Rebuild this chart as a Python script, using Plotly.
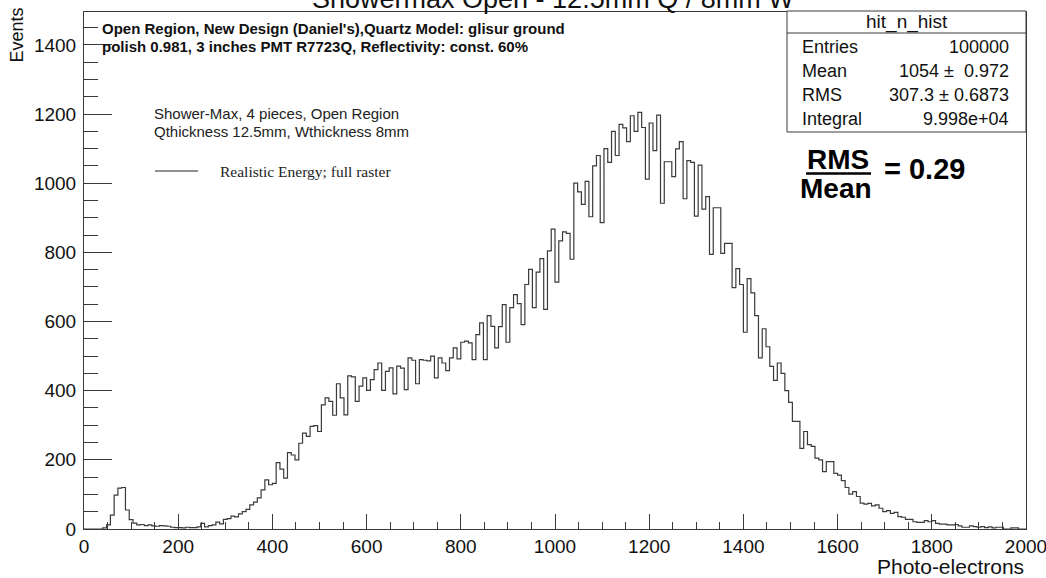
import numpy as np
import plotly.graph_objects as go

# ---- histogram: hit_n_hist, 250 bins on [0, 2000] ----
x_low, x_high, n_bins = 0, 2000, 250
counts = [
    0, 0, 0, 0, 0, 3, 12, 40, 98, 118,
    120, 55, 27, 17, 12, 13, 10, 12, 9, 8,
    10, 9, 8, 5, 4, 4, 3, 5, 4, 4,
    6, 16, 6, 10, 12, 20, 15, 28, 30, 37,
    35, 44, 50, 57, 70, 78, 90, 113, 142, 128,
    132, 192, 173, 147, 221, 214, 200, 248, 277, 268,
    297, 299, 282, 359, 379, 369, 329, 420, 379, 330,
    443, 440, 369, 413, 437, 401, 432, 461, 480, 401,
    456, 466, 391, 471, 465, 403, 495, 488, 420, 490,
    488, 486, 500, 437, 495, 480, 458, 495, 524, 492,
    540, 543, 538, 490, 562, 596, 490, 617, 586, 524,
    585, 649, 540, 640, 678, 652, 591, 707, 751, 640,
    743, 782, 635, 804, 867, 714, 833, 859, 855, 780,
    1000, 975, 939, 1005, 903, 1050, 1080, 886, 1100, 1060,
    1150, 1080, 1170, 1160, 1120, 1195, 1150, 1205, 1161, 1012,
    1174, 1094, 1197, 942, 1062, 1062, 1019, 1099, 1120, 955,
    1065, 1060, 905, 1052, 925, 961, 794, 929, 929, 797,
    826, 826, 698, 753, 707, 569, 724, 683, 617, 495,
    579, 527, 470, 430, 480, 450, 400, 366, 311, 311,
    233, 282, 244, 239, 205, 200, 166, 195, 195, 161,
    156, 140, 120, 101, 108, 94, 75, 72, 74, 67,
    70, 60, 50, 53, 45, 48, 36, 34, 28, 28,
    21, 19, 19, 24, 21, 24, 16, 14, 14, 12,
    12, 13, 9, 5, 5, 9, 7, 5, 7, 4,
    6, 3, 5, 5, 0, 0, 3, 3, 0, 0,
]

x_ticks = list(range(0, 2001, 200))
y_ticks = list(range(0, 1401, 200))

hist_title = "Showermax Open - 12.5mm Q / 8mm W"
x_title = "Photo-electrons"
y_title = "Events"
info_lines = [
    "Open Region, New Design (Daniel's),Quartz Model: glisur ground",
    "polish 0.981, 3 inches PMT R7723Q, Reflectivity: const. 60%",
]
setup_lines = ["Shower-Max, 4 pieces, Open Region", "Qthickness 12.5mm, Wthickness 8mm"]
legend_label = "Realistic Energy; full raster"
stats_name = "hit_n_hist"
stats_rows = [
    ("Entries", "100000"),
    ("Mean", "1054 \u00b1\u00a0 0.972"),
    ("RMS", "307.3 \u00b1 0.6873"),
    ("Integral", "9.998e+04"),
]
ratio_text = "= 0.29"

# ---- geometry of the frame (pixels) ----
W, H = 1046, 578
L, R, T, B = 84, 1026, 12, 529
y_top = 1495

def px(xp):
    return (xp - L) / (R - L)

def py(yp):
    return (B - yp) / (B - T)

edges = np.linspace(x_low, x_high, n_bins + 1)
step_y = np.append(np.array(counts, dtype=float), counts[-1])

LINE = "#3a3a3a"
SANS = "Liberation Sans, Arial, Helvetica, sans-serif"
SERIF = "Liberation Serif, Times New Roman, serif"

fig = go.Figure()
fig.add_trace(go.Scatter(
    x=edges, y=step_y, mode="lines",
    line=dict(shape="hv", color=LINE, width=1.2),
    hoverinfo="skip", showlegend=False,
))

fig.update_layout(
    width=W, height=H,
    margin=dict(l=L, r=W - R, t=T, b=H - B, pad=0, autoexpand=False),
    paper_bgcolor="white", plot_bgcolor="white",
    showlegend=False,
    xaxis=dict(
        range=[x_low, x_high], tickvals=x_ticks, ticktext=[str(v) for v in x_ticks],
        ticks="inside", ticklen=15, tickwidth=1, tickcolor=LINE,
        minor=dict(ticks="inside", ticklen=7, dtick=50, tick0=0, tickcolor=LINE, tickwidth=1),
        showline=True, linecolor=LINE, linewidth=1, mirror=True,
        showgrid=False, zeroline=False, ticklabeloverflow="allow", automargin=False,
        tickfont=dict(family=SANS, size=19, color="#111"),
    ),
    yaxis=dict(
        range=[0, y_top], tickvals=y_ticks, ticktext=[str(v) for v in y_ticks],
        ticks="inside", ticklen=28, tickwidth=1, tickcolor=LINE,
        minor=dict(ticks="inside", ticklen=14, dtick=50, tick0=0, tickcolor=LINE, tickwidth=1),
        showline=True, linecolor=LINE, linewidth=1, mirror=True,
        showgrid=False, zeroline=False, automargin=False,
        tickfont=dict(family=SANS, size=19, color="#111"),
        ticklabelstandoff=3,
    ),
)

ann = []
# histogram title, partly above the page edge
ann.append(dict(text=hist_title, x=px(553), y=py(16), xanchor="center", yanchor="bottom",
                font=dict(family=SANS, size=27, color="#111")))
# axis titles
ann.append(dict(text=y_title, x=px(17), y=py(6), xanchor="center", yanchor="top", textangle=-90,
                font=dict(family=SANS, size=18, color="#111")))
ann.append(dict(text=x_title, x=px(1026), y=py(566), xanchor="right", yanchor="middle",
                font=dict(family=SANS, size=21, color="#111")))
# bold description lines
for i, line in enumerate(info_lines):
    ann.append(dict(text="<b>" + line + "</b>", x=px(100), y=py(28 + 18 * i), xanchor="left", yanchor="middle",
                    font=dict(family=SANS, size=15, color="#111")))
for i, line in enumerate(setup_lines):
    ann.append(dict(text=line, x=px(152), y=py(113 + 18 * i), xanchor="left", yanchor="middle",
                    font=dict(family=SANS, size=15, color="#222")))
ann.append(dict(text=legend_label, x=px(218), y=py(171), xanchor="left", yanchor="middle",
                font=dict(family=SERIF, size=15.5, color="#222")))

# statistics box
box_l, box_r, box_t, box_b, head_b = 787, 1026, 11, 132, 33
ann.append(dict(text=stats_name, x=px((box_l + box_r) / 2), y=py(22), xanchor="center", yanchor="middle",
                font=dict(family=SANS, size=19, color="#111")))
for i, (k, v) in enumerate(stats_rows):
    yy = 47 + 24 * i
    ann.append(dict(text=k, x=px(800), y=py(yy), xanchor="left", yanchor="middle",
                    font=dict(family=SANS, size=18, color="#111")))
    ann.append(dict(text=v, x=px(1011), y=py(yy), xanchor="right", yanchor="middle",
                    font=dict(family=SANS, size=18, color="#111")))

# RMS / Mean ratio
ann.append(dict(text="<b>RMS</b>", x=px(838), y=py(159), xanchor="center", yanchor="middle",
                font=dict(family=SANS, size=28, color="#000")))
ann.append(dict(text="<b>Mean</b>", x=px(836), y=py(188), xanchor="center", yanchor="middle",
                font=dict(family=SANS, size=28, color="#000")))
ann.append(dict(text="<b>" + ratio_text + "</b>", x=px(882), y=py(169), xanchor="left", yanchor="middle",
                font=dict(family=SANS, size=29, color="#000")))

for a in ann:
    a.update(xref="paper", yref="paper", showarrow=False)
fig.update_layout(annotations=ann)

shapes = [
    dict(type="rect", x0=px(box_l), x1=px(box_r), y0=py(box_b), y1=py(box_t),
         line=dict(color=LINE, width=1), fillcolor="white", layer="above"),
    dict(type="line", x0=px(box_l), x1=px(box_r), y0=py(head_b), y1=py(head_b),
         line=dict(color=LINE, width=1)),
    dict(type="line", x0=px(806), x1=px(871), y0=py(173.5), y1=py(173.5),
         line=dict(color="#000", width=2.5)),
    dict(type="line", x0=px(155), x1=px(198), y0=py(171), y1=py(171),
         line=dict(color="#222", width=1)),
]
for s in shapes:
    s.update(xref="paper", yref="paper")
fig.update_layout(shapes=shapes)

fig.write_html("out.html")
